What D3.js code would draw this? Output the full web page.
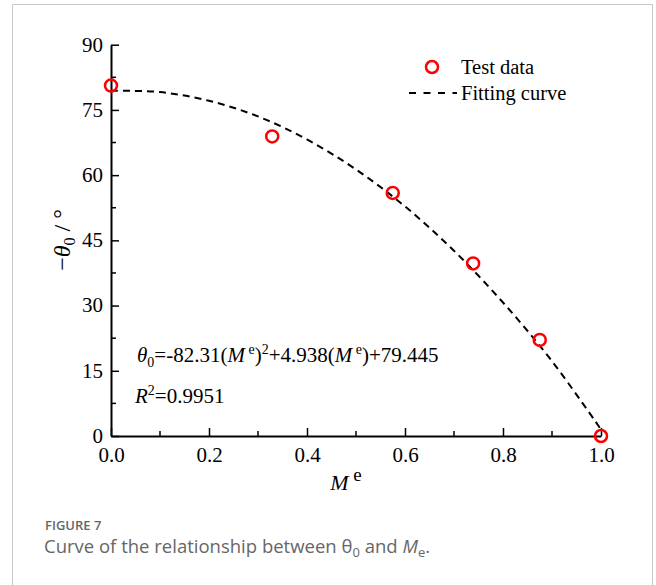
<!DOCTYPE html>
<html lang="en">
<head>
<meta charset="UTF-8">
<title>Figure 7</title>
<script src="https://d3js.org/d3.v7.min.js"></script>
<style>
    body { margin: 0; background: white; }
    svg text { font-family: "Liberation Serif", "Times New Roman", serif; fill: #000; }
    .cap { font-family: "Open Sans", "Noto Sans", sans-serif; fill: #666; }
</style>
</head>
<body>
<script>
// test points
const testX = [0.0, 0.329, 0.575, 0.739, 0.875, 1.0];
const testY = [80.6, 68.9, 55.9, 39.7, 22.1, 0.0];

// fitted curve, sampled off the dashed line
const fitX = [0.0, 0.1, 0.2, 0.3, 0.4, 0.5, 0.6, 0.7, 0.8, 0.9, 1.0];
const fitY = [79.4, 79.1, 77.1, 73.5, 68.2, 61.3, 52.8, 42.6, 30.7, 17.2, 1.5];

const xTicks = [0, 0.2, 0.4, 0.6, 0.8, 1.0];
const xMinor = [0.1, 0.3, 0.5, 0.7, 0.9];
const yTicks = [0, 15, 30, 45, 60, 75, 90];
const yMinor = [7.5, 22.5, 37.5, 52.5, 67.5, 82.5];

const W = 656, H = 585;
const svg = d3.select("body").append("svg").attr("width", W).attr("height", H);

// frame around the figure
svg.append("path")
    .attr("d", "M12.5,590 V4.5 H652.5 V590")
    .attr("fill", "none").attr("stroke", "#c8c8c8").attr("stroke-width", 1);

const x = d3.scaleLinear().domain([0, 1]).range([111, 601]);
const y = d3.scaleLinear().domain([0, 90]).range([436, 44.7]);

const g = svg.append("g");

// x axis
const xAxis = g.append("g").attr("transform", "translate(0,436)");
xAxis.call(d3.axisBottom(x).tickValues(xTicks).tickSizeInner(-8).tickSizeOuter(0).tickFormat(d3.format(".1f")));
xAxis.append("g").selectAll("line").data(xMinor).enter().append("line")
    .attr("x1", d => x(d)).attr("x2", d => x(d)).attr("y1", 0).attr("y2", -5)
    .attr("stroke", "#000").attr("stroke-width", 1.5);

// y axis
const yAxis = g.append("g").attr("transform", "translate(111,0)");
yAxis.call(d3.axisLeft(y).tickValues(yTicks).tickSizeInner(-8).tickSizeOuter(0));
yAxis.append("g").selectAll("line").data(yMinor).enter().append("line")
    .attr("y1", d => y(d)).attr("y2", d => y(d)).attr("x1", 0).attr("x2", 5)
    .attr("stroke", "#000").attr("stroke-width", 1.5);

[xAxis, yAxis].forEach(a => {
    a.select(".domain").attr("stroke", "#000").attr("stroke-width", 2);
    a.selectAll(".tick line").attr("stroke", "#000").attr("stroke-width", 1.5);
    a.selectAll(".tick text").style("font-family", "Liberation Serif").style("font-size", "21px").attr("fill", "#000");
});
xAxis.selectAll(".tick text").attr("y", 11).attr("dy", "0.71em");
yAxis.selectAll(".tick text").attr("x", -8).attr("dy", "0.3em");

// fitted curve
const line = d3.line().x((d, i) => x(fitX[i])).y(d => y(d)).curve(d3.curveCatmullRom);
g.append("path").datum(fitY)
    .attr("d", line)
    .attr("fill", "none").attr("stroke", "#000").attr("stroke-width", 2)
    .attr("stroke-dasharray", "7,5");

// test data
g.selectAll("circle.pt").data(testX).enter().append("circle")
    .attr("class", "pt")
    .attr("cx", d => x(d)).attr("cy", (d, i) => y(testY[i])).attr("r", 6)
    .attr("fill", "none").attr("stroke", "#ff0000").attr("stroke-width", 2.5);

// legend
svg.append("circle").attr("cx", 432).attr("cy", 67).attr("r", 6)
    .attr("fill", "none").attr("stroke", "#ff0000").attr("stroke-width", 2.5);
svg.append("text").attr("x", 461).attr("y", 74).style("font-size", "20.5px").text("Test data");
svg.append("line").attr("x1", 409).attr("x2", 457).attr("y1", 93).attr("y2", 93)
    .attr("stroke", "#000").attr("stroke-width", 2).attr("stroke-dasharray", "7,7.5");
svg.append("text").attr("x", 461).attr("y", 100).style("font-size", "20.5px").text("Fitting curve");

// equation
const eq = svg.append("text").attr("x", 137).attr("y", 362).style("font-size", "21px");
eq.append("tspan").style("font-style", "italic").text("θ");
eq.append("tspan").attr("dy", 5).style("font-size", "14px").text("0");
eq.append("tspan").attr("dy", -5).text("=-82.31(");
eq.append("tspan").style("font-style", "italic").text("M");
eq.append("tspan").attr("dy", -8).style("font-size", "14px").text(" e");
eq.append("tspan").attr("dy", 8).text(")");
eq.append("tspan").attr("dy", -8).style("font-size", "14px").text("2");
eq.append("tspan").attr("dy", 8).text("+4.938(");
eq.append("tspan").style("font-style", "italic").text("M");
eq.append("tspan").attr("dy", -8).style("font-size", "14px").text(" e");
eq.append("tspan").attr("dy", 8).text(")+79.445");

const r2 = svg.append("text").attr("x", 135).attr("y", 403).style("font-size", "21px");
r2.append("tspan").style("font-style", "italic").text("R");
r2.append("tspan").attr("dy", -8).style("font-size", "14px").text("2");
r2.append("tspan").attr("dy", 8).text("=0.9951");

// axis titles
const xt = svg.append("text").attr("x", 346).attr("y", 490).attr("text-anchor", "middle").style("font-size", "22px");
xt.append("tspan").style("font-style", "italic").text("M");
xt.append("tspan").attr("dy", -9).style("font-size", "19px").text(" e");

const yt = svg.append("text").attr("transform", "translate(70,240) rotate(-90)")
    .attr("text-anchor", "middle").style("font-size", "24px");
yt.append("tspan").text("−");
yt.append("tspan").style("font-style", "italic").text("θ");
yt.append("tspan").attr("dy", 5).style("font-size", "16px").text("0");
yt.append("tspan").attr("dy", -5).text(" / °");

// caption
svg.append("text").attr("class", "cap").attr("x", 45).attr("y", 530)
    .style("font-size", "13px").style("font-weight", "600").style("font-family", "Open Sans").text("FIGURE 7");
const cap = svg.append("text").attr("class", "cap").attr("x", 44).attr("y", 553)
    .style("font-size", "18.5px").style("font-family", "Open Sans");
cap.append("tspan").text("Curve of the relationship between θ");
cap.append("tspan").attr("dy", 4).style("font-size", "13px").text("0");
cap.append("tspan").attr("dy", -4).text(" and ");
cap.append("tspan").style("font-style", "italic").text("M");
cap.append("tspan").attr("dy", 4).style("font-size", "13px").text("e");
cap.append("tspan").attr("dy", -4).text(".");
</script>
</body>
</html>
